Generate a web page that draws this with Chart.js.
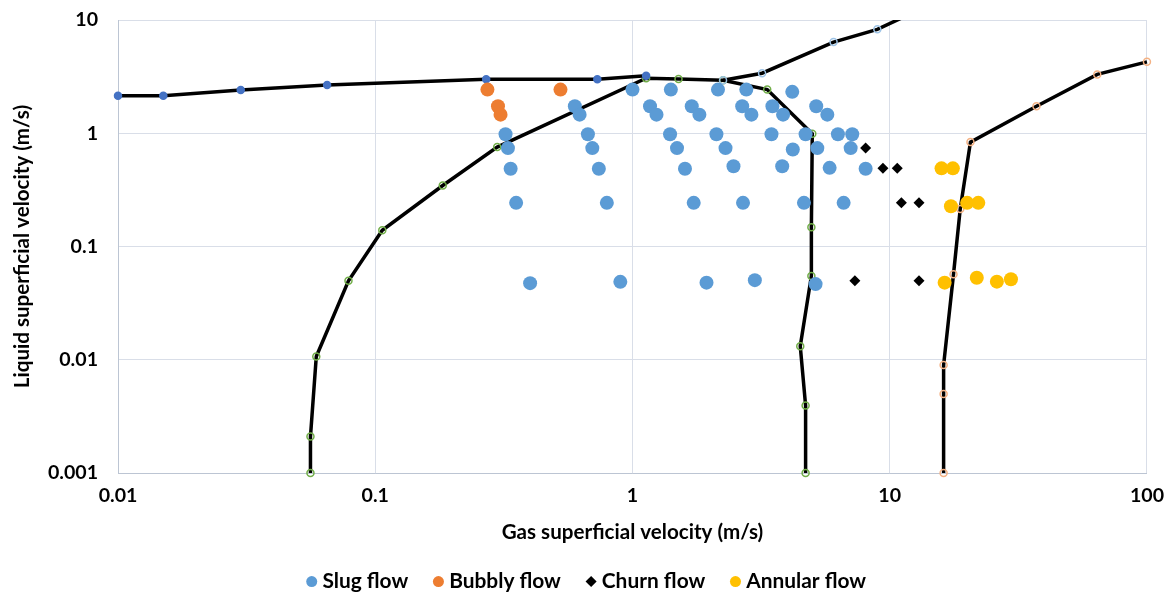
<!DOCTYPE html>
<html>
<head>
<meta charset="utf-8">
<script src="https://cdn.jsdelivr.net/npm/chart.js@4.4.1/dist/chart.umd.min.js"></script>
<style>
  html, body { margin: 0; padding: 0; background: #ffffff; }
  #wrap { width: 1164px; height: 593px; position: relative; }
</style>
</head>
<body>
<div id="wrap"><canvas id="c"></canvas></div>
<script>
// ---- tick labels ----
const xTicks = [0.01, 0.1, 1, 10, 100];
const yTicks = [0.001, 0.01, 0.1, 1, 10];

// ---- experimental points: gas velocity (x) / liquid velocity (y) ----
const slugX = [1.0, 1.41, 2.15, 2.77, 4.18,
  0.597, 1.17, 1.70, 2.67, 3.50, 5.18,
  0.623, 1.24, 1.82, 2.90, 3.85, 5.72,
  0.321, 0.671, 1.40, 2.12, 3.47, 4.71, 6.29, 7.15,
  0.328, 0.698, 1.49, 2.30, 4.20, 5.23, 7.05,
  0.336, 0.740, 1.60, 2.47, 3.82, 5.84, 8.06,
  0.353, 0.795, 1.73, 2.69, 4.64, 6.62,
  0.40, 0.897, 1.94, 2.99, 5.15];
const slugY = [2.43, 2.43, 2.43, 2.43, 2.32,
  1.73, 1.73, 1.73, 1.73, 1.73, 1.73,
  1.46, 1.46, 1.46, 1.46, 1.46, 1.46,
  0.98, 0.98, 0.98, 0.98, 0.98, 0.98, 0.98, 0.98,
  0.74, 0.74, 0.74, 0.74, 0.72, 0.74, 0.74,
  0.486, 0.486, 0.486, 0.512, 0.512, 0.495, 0.486,
  0.243, 0.243, 0.243, 0.243, 0.243, 0.243,
  0.0475, 0.0488, 0.048, 0.0505, 0.0466];

const bubblyX = [0.273, 0.30, 0.307, 0.525];
const bubblyY = [2.43, 1.73, 1.46, 2.43];

const churnX = [8.06, 9.41, 10.7, 11.1, 13.0, 7.32, 13.0];
const churnY = [0.74, 0.49, 0.49, 0.243, 0.243, 0.05, 0.05];

const annularX = [15.9, 17.6, 17.3, 20.0, 22.1, 16.35, 21.8, 26.1, 29.6];
const annularY = [0.49, 0.49, 0.227, 0.243, 0.243, 0.048, 0.053, 0.049, 0.0515];

// ---- transition boundaries ----
const lineAX = [0.01, 0.015, 0.03, 0.065, 0.27, 0.73, 1.13];
const lineAY = [2.14, 2.14, 2.41, 2.67, 3.0, 3.0, 3.22];

const lineBX = [2.25, 3.19, 6.05, 8.95, 13.5];
const lineBY = [2.94, 3.39, 6.38, 8.27, 12.8];

const lineCX = [0.056, 0.056, 0.059, 0.0787, 0.1065, 0.183, 0.298, 1.13, 1.51, 2.25, 3.34, 5.0, 4.96, 4.96, 4.49, 4.71, 4.71];
const lineCY = [0.001, 0.0021, 0.0107, 0.0498, 0.139, 0.346, 0.755, 3.06, 3.02, 2.94, 2.43, 0.99, 0.148, 0.055, 0.0132, 0.00395, 0.001];

const lineDX = [16.2, 16.2, 16.2, 17.7, 18.8, 20.6, 37.2, 64.1, 100];
const lineDY = [0.001, 0.0050, 0.00898, 0.057, 0.215, 0.836, 1.73, 3.31, 4.27];

const pts = (xs, ys) => xs.map((x, i) => ({ x: x, y: ys[i] }));

const FONT = "Lato, 'Open Sans', 'Liberation Sans', sans-serif";

// choose font sizes so that text widths match the reference's
const mctx = document.createElement('canvas').getContext('2d');
function fitSize(text, target) {
  mctx.font = 'bold 100px ' + FONT;
  const w = mctx.measureText(text).width;
  return Math.round(1000 * target / w) / 10;
}
const xTitleSize = fitSize('Gas superficial velocity (m/s)', 262);
const yTitleSize = fitSize('Liquid superficial velocity (m/s)', 283);
const tickSize = fitSize('0.001', 50);
const legendSize = fitSize('Bubbly flow', 112);

const lineClip = { left: 6, right: 6, bottom: 6, top: 0 };

function lineSet(label, xs, ys, markerColor, filled) {
  return {
    label: label,
    data: pts(xs, ys),
    showLine: true,
    borderColor: '#000000',
    borderWidth: 3.5,
    pointRadius: 3.5,
    pointHoverRadius: 3.5,
    pointBorderWidth: 1.5,
    pointBorderColor: markerColor,
    pointBackgroundColor: filled ? markerColor : 'rgba(0,0,0,0)',
    clip: lineClip,
    isBoundary: true
  };
}

const datasets = [
  { label: 'Slug flow', data: pts(slugX, slugY), backgroundColor: '#5B9BD5', borderColor: '#5B9BD5',
    pointRadius: 7, pointHoverRadius: 7, pointStyle: 'circle', borderWidth: 0 },
  { label: 'Bubbly flow', data: pts(bubblyX, bubblyY), backgroundColor: '#ED7D31', borderColor: '#ED7D31',
    pointRadius: 7, pointHoverRadius: 7, pointStyle: 'circle', borderWidth: 0 },
  { label: 'Churn flow', data: pts(churnX, churnY), backgroundColor: '#000000', borderColor: '#000000',
    pointRadius: 5.5, pointHoverRadius: 5.5, pointStyle: 'rectRot', borderWidth: 0 },
  { label: 'Annular flow', data: pts(annularX, annularY), backgroundColor: '#FFC000', borderColor: '#FFC000',
    pointRadius: 7, pointHoverRadius: 7, pointStyle: 'circle', borderWidth: 0 },
  lineSet('A', lineAX, lineAY, '#4472C4', true),
  lineSet('B', lineBX, lineBY, '#9DC3E6', false),
  lineSet('C', lineCX, lineCY, '#70AD47', false),
  lineSet('D', lineDX, lineDY, '#F4B183', false)
];

// moves the legend row a little to the right, as in the reference
const legendShift = {
  id: 'legendShift',
  afterLayout(chart) {
    const l = chart.legend;
    if (l) { l.left += 15; l.right += 15; }
  }
};

new Chart(document.getElementById('c'), {
  type: 'scatter',
  data: { datasets: datasets },
  plugins: [legendShift],
  options: {
    responsive: true,
    maintainAspectRatio: false,
    animation: false,
    layout: { padding: { left: 0, right: 16.5, top: 20, bottom: -9 } },
    plugins: {
      tooltip: { enabled: false },
      legend: {
        position: 'bottom',
        labels: {
          filter: (item, data) => !data.datasets[item.datasetIndex].isBoundary,
          usePointStyle: true,
          boxWidth: 0.5,
          boxHeight: 7.8,
          padding: 30,
          color: '#000000',
          font: { family: FONT, size: legendSize, weight: 'bold' }
        }
      }
    },
    scales: {
      x: {
        type: 'logarithmic',
        min: 0.01, max: 100,
        afterBuildTicks: (s) => { s.ticks = xTicks.map(v => ({ value: v })); },
        afterFit: (s) => { s.height = 68; },
        ticks: {
          callback: (v) => String(v),
          color: '#000000',
          padding: 0,
          maxRotation: 0,
          font: { family: FONT, size: tickSize, weight: 'bold' }
        },
        grid: { color: '#D9DEE8', lineWidth: 1, drawTicks: true, tickLength: 10.5, tickColor: 'rgba(0,0,0,0)' },
        border: { color: '#BCC5D3', width: 1 },
        title: {
          display: true,
          text: 'Gas superficial velocity (m/s)',
          color: '#000000',
          padding: { top: 0, bottom: -2 },
          font: { family: FONT, size: xTitleSize, weight: 'bold', lineHeight: 1 }
        }
      },
      y: {
        type: 'logarithmic',
        min: 0.001, max: 10,
        afterBuildTicks: (s) => { s.ticks = yTicks.map(v => ({ value: v })); },
        afterFit: (s) => { s.width = 118; },
        ticks: {
          callback: (v) => String(v),
          color: '#000000',
          padding: 0,
          font: { family: FONT, size: tickSize, weight: 'bold' }
        },
        grid: { color: '#D9DEE8', lineWidth: 1, drawTicks: true, tickLength: 20, tickColor: 'rgba(0,0,0,0)' },
        border: { color: '#BCC5D3', width: 1 },
        title: {
          display: true,
          text: 'Liquid superficial velocity (m/s)',
          color: '#000000',
          padding: { top: 12, bottom: 0 },
          font: { family: FONT, size: yTitleSize, weight: 'bold', lineHeight: 1 }
        }
      }
    }
  }
});
</script>
</body>
</html>
